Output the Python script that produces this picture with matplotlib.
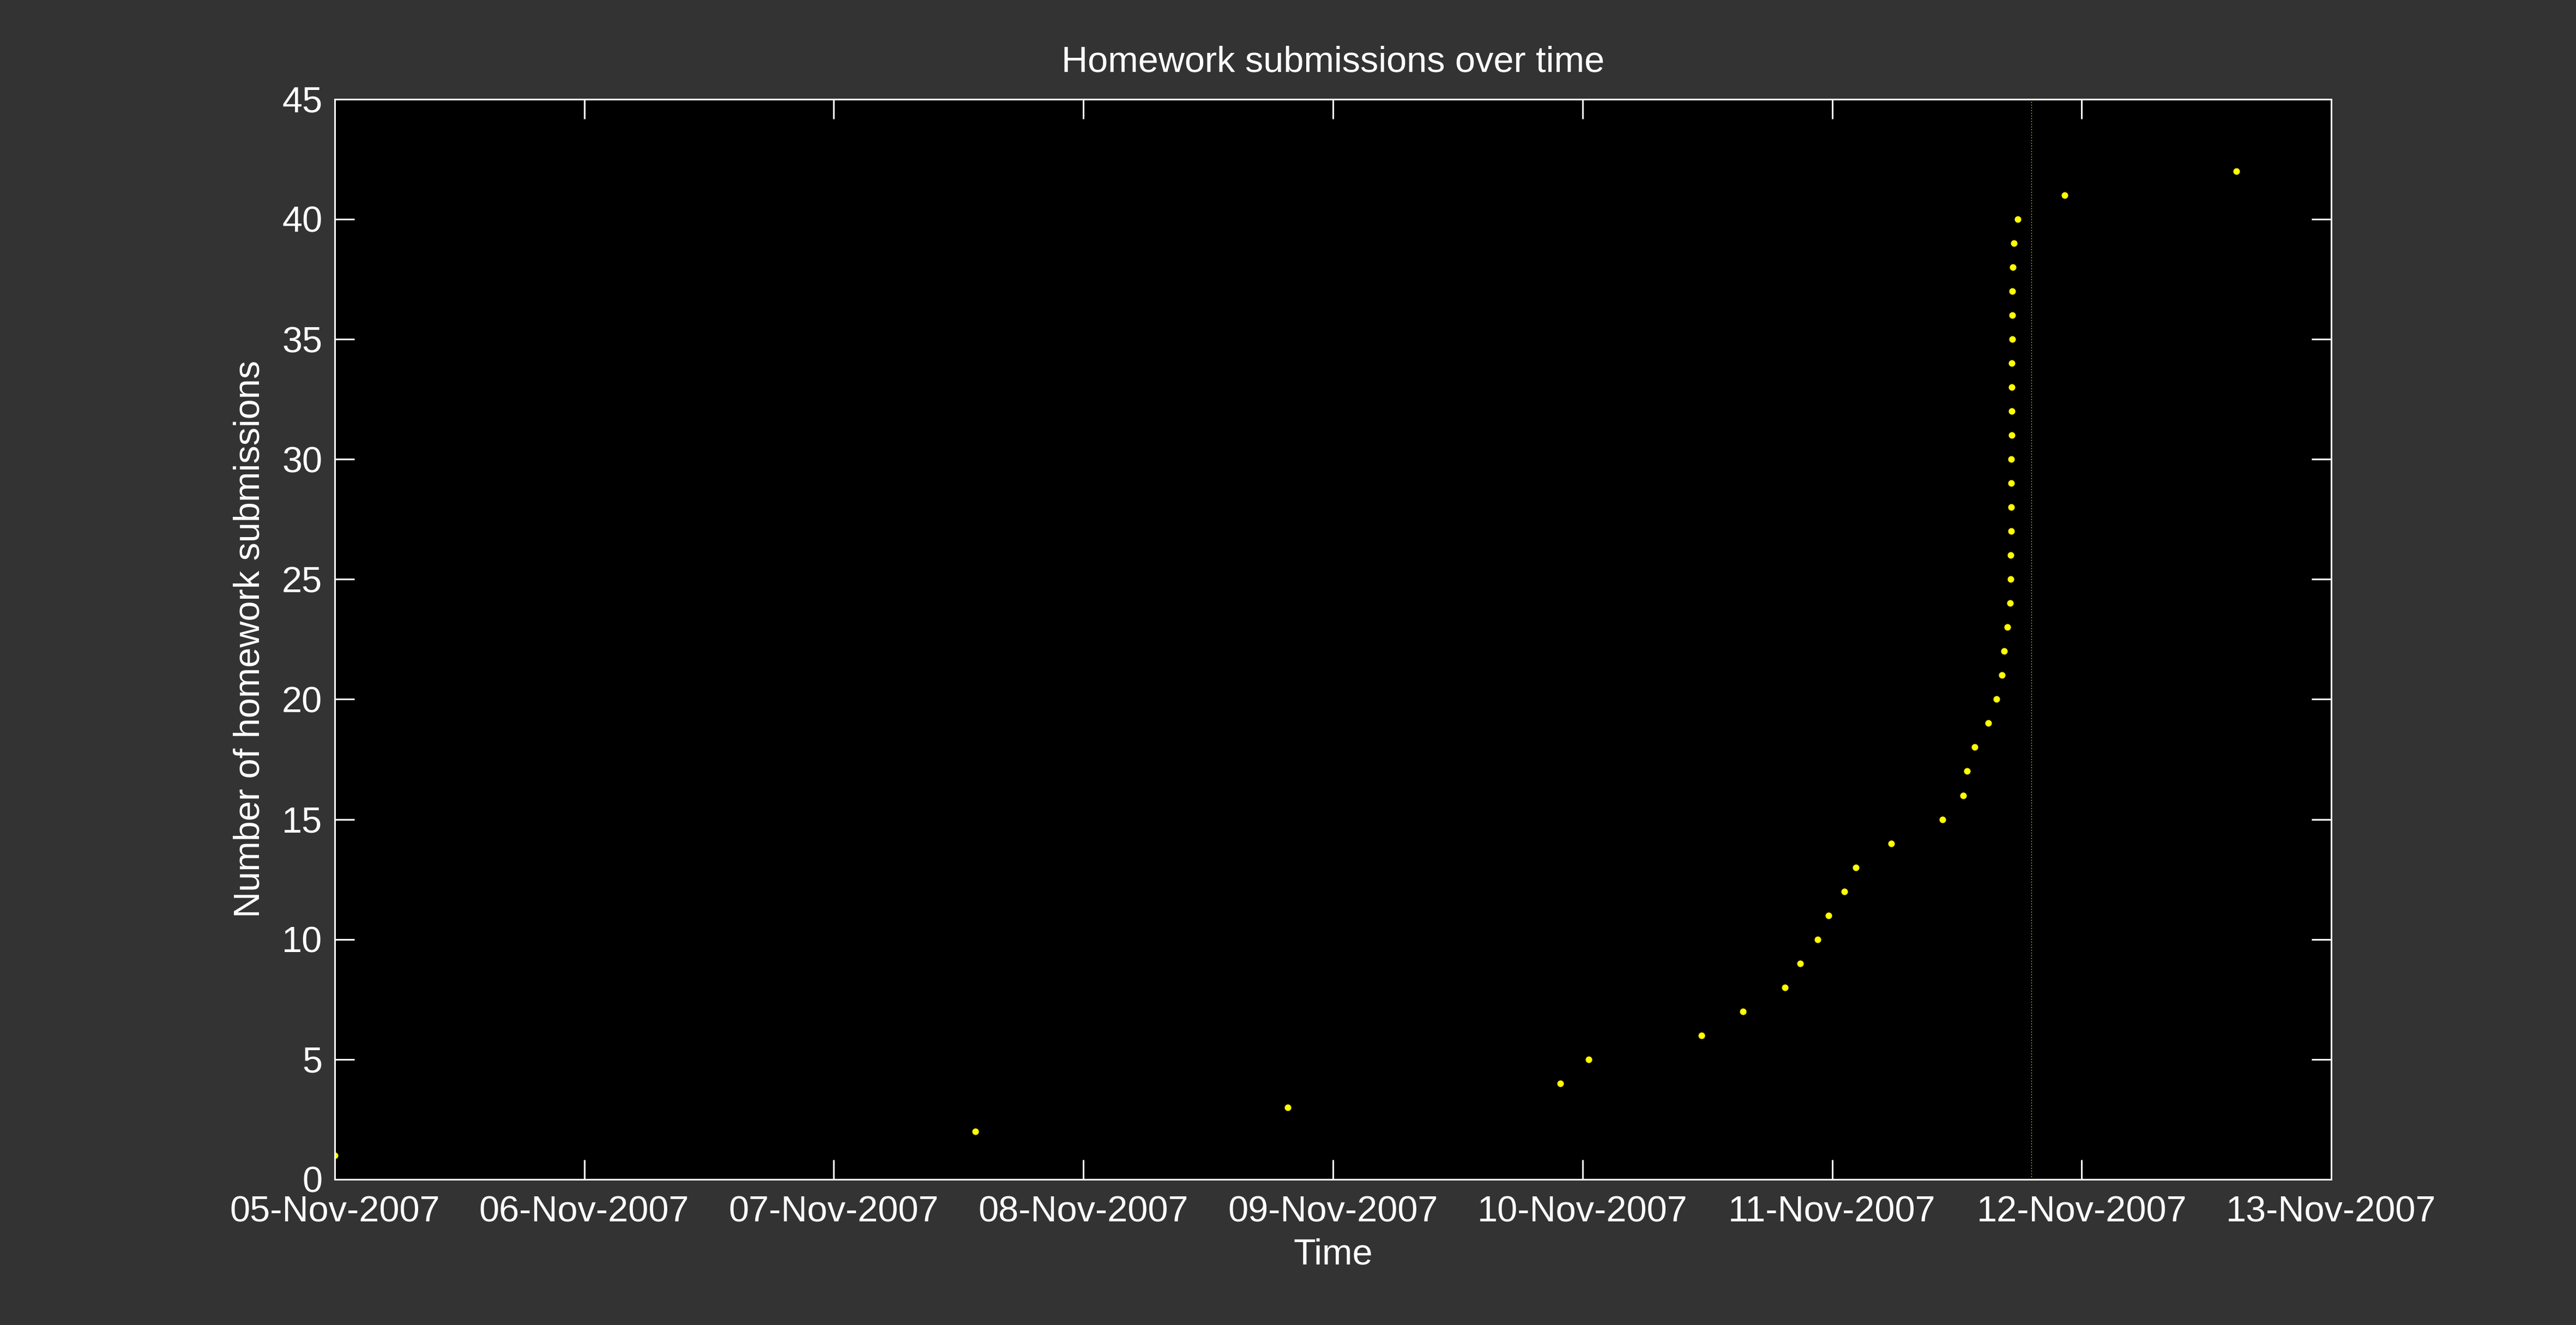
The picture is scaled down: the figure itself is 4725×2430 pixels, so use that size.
"""
homework submissions over time: cumulative count of submissions vs time,
with a dotted line marking the deadline.
"""

import matplotlib
matplotlib.use("Agg")
import matplotlib.pyplot as plt
import matplotlib.dates as mdates
import pandas as pd

# submission timestamps
submission_times = [
    "2007-11-05 00:01", "2007-11-07 13:37", "2007-11-08 19:40", "2007-11-09 21:51",
    "2007-11-10 00:35", "2007-11-10 11:27", "2007-11-10 15:25", "2007-11-10 19:27",
    "2007-11-10 20:55", "2007-11-10 22:36", "2007-11-10 23:38", "2007-11-11 01:10",
    "2007-11-11 02:17", "2007-11-11 05:41", "2007-11-11 10:36", "2007-11-11 12:36",
    "2007-11-11 12:58", "2007-11-11 13:42", "2007-11-11 15:00", "2007-11-11 15:47",
    "2007-11-11 16:19", "2007-11-11 16:32", "2007-11-11 16:50", "2007-11-11 17:06",
    "2007-11-11 17:09", "2007-11-11 17:10", "2007-11-11 17:12", "2007-11-11 17:13",
    "2007-11-11 17:13", "2007-11-11 17:14", "2007-11-11 17:16", "2007-11-11 17:16",
    "2007-11-11 17:17", "2007-11-11 17:17", "2007-11-11 17:19", "2007-11-11 17:19",
    "2007-11-11 17:20", "2007-11-11 17:22", "2007-11-11 17:28", "2007-11-11 17:50",
    "2007-11-11 22:21", "2007-11-12 14:51",
]
# cumulative number of submissions
submission_counts = [
    1, 2, 3, 4, 5, 6, 7, 8, 9, 10, 11, 12, 13, 14, 15, 16, 17, 18, 19, 20, 21,
    22, 23, 24, 25, 26, 27, 28, 29, 30, 31, 32, 33, 34, 35, 36, 37, 38, 39, 40,
    41, 42,
]
deadline = "2007-11-11 19:10"
x_range = ["2007-11-05", "2007-11-13"]
y_ticks = [0, 5, 10, 15, 20, 25, 30, 35, 40, 45]

plt.rcParams["font.family"] = ["Liberation Sans", "DejaVu Sans"]

times = pd.to_datetime(submission_times)

fig = plt.figure(figsize=(15.75, 8.1), dpi=300, facecolor="#333333")
ax = fig.add_axes([0.1299, 0.1099, 0.905 - 0.1299, 0.9252 - 0.1099])
ax.set_facecolor("black")

# submissions
ax.plot(times, submission_counts, linestyle="none", marker="o",
        markersize=2.9, markeredgewidth=0, color="yellow")

# deadline marker
ax.axvline(pd.Timestamp(deadline), color="yellow", linewidth=0.3,
           linestyle=(0, (1.2, 2.8)))

ax.set_xlim(pd.Timestamp(x_range[0]), pd.Timestamp(x_range[1]))
ax.set_ylim(y_ticks[0], y_ticks[-1])
ax.set_yticks(y_ticks)
ax.xaxis.set_major_locator(mdates.DayLocator())
ax.xaxis.set_major_formatter(mdates.DateFormatter("%d-%b-%Y"))

for side in ax.spines.values():
    side.set_color("white")
    side.set_linewidth(0.72)

ax.tick_params(axis="both", which="major", direction="in", top=True, right=True,
               length=8.6, width=0.72, color="white", labelcolor="white",
               labelsize=16)
ax.tick_params(axis="x", pad=7)
ax.tick_params(axis="y", pad=5.4)

ax.set_title("Homework submissions over time", color="white", fontsize=16, pad=12)
ax.set_xlabel("Time", color="white", fontsize=16, labelpad=4)
ax.set_ylabel("Number of homework submissions", color="white", fontsize=16,
              labelpad=6.5)

fig.savefig("out.png", dpi=300, facecolor=fig.get_facecolor())
